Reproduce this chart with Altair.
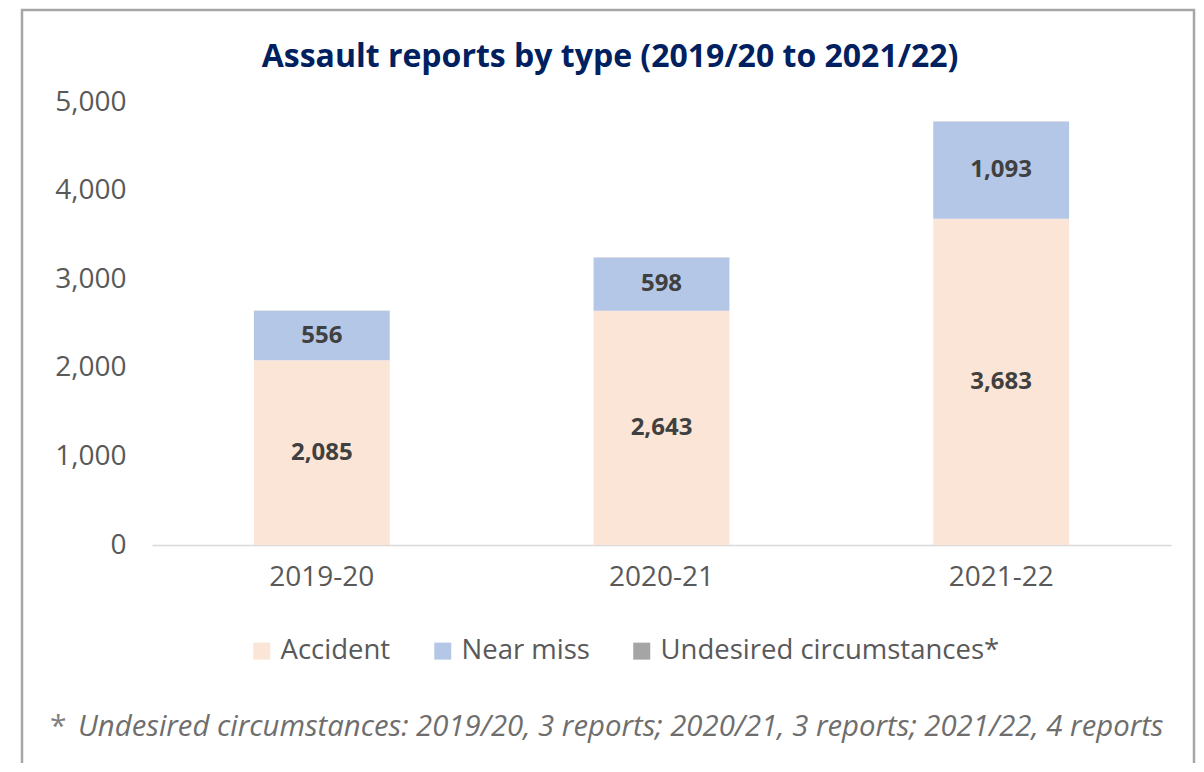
import altair as alt
import pandas as pd

years = ["2019-20", "2020-21", "2021-22"]
types = ["Accident", "Near miss", "Undesired circumstances*"]
accident = [2085, 2643, 3683]
near_miss = [556, 598, 1093]
undesired = [3, 3, 4]
colors = ["#FBE5D6", "#B4C7E7", "#A5A5A5"]
title_text = "Assault reports by type (2019/20 to 2021/22)"
footnote = "Undesired circumstances: 2019/20, 3 reports; 2020/21, 3 reports; 2021/22, 4 reports"

rows = []
for i, y in enumerate(years):
    for j, (t, vals) in enumerate(zip(types, [accident, near_miss, undesired])):
        rows.append({"year": y, "type": t, "value": vals[i], "order": j, "show": j < 2})
df = pd.DataFrame(rows)

FONT = "Open Sans"
PLOT_LEFT = 152
PLOT_TOP = 102

x_enc = alt.X("year:N", sort=years, title=None,
              scale=alt.Scale(paddingInner=0.6, paddingOuter=0.3),
              axis=alt.Axis(labelAngle=0, labelFontSize=28, labelColor="#595959",
                            labelFont=FONT, ticks=False, domainColor="#D9D9D9",
                            domainWidth=1.5, labelPadding=18))
y_enc = alt.Y("value:Q", stack="zero", title=None,
              scale=alt.Scale(domain=[0, 5000], nice=False),
              axis=alt.Axis(values=[0, 1000, 2000, 3000, 4000, 5000], format=",.0f",
                            labelFontSize=28, labelColor="#595959", labelFont=FONT,
                            ticks=False, domain=False, grid=False, labelPadding=26))

base = alt.Chart(df)

bars = base.mark_bar().encode(
    x=x_enc,
    y=y_enc,
    color=alt.Color("type:N", sort=types,
                    scale=alt.Scale(domain=types, range=colors),
                    legend=alt.Legend(title=None, orient="none", direction="horizontal",
                                      legendX=96, legendY=535,
                                      symbolType="square", symbolSize=289,
                                      symbolStrokeWidth=0, labelFontSize=27.5,
                                      labelFont=FONT, labelColor="#595959",
                                      labelOffset=5, columnPadding=38, labelLimit=500)),
    order=alt.Order("order:Q"),
)

labels = base.transform_stack(
    stack="value", groupby=["year"], sort=[alt.SortField("order")], as_=["y0", "y1"]
).transform_calculate(
    mid="(datum.y0 + datum.y1) / 2"
).transform_filter("datum.show").mark_text(
    font=FONT, fontSize=24, fontWeight="bold", color="#404040", baseline="middle"
).encode(
    x=alt.X("year:N", sort=years),
    y=alt.Y("mid:Q"),
    text=alt.Text("value:Q", format=","),
)

border = alt.Chart(pd.DataFrame({"a": [0]})).mark_rect(
    fill=None, stroke="#A6A6A6", strokeWidth=2.5
).encode(
    x=alt.value(22 - PLOT_LEFT), x2=alt.value(1194 - PLOT_LEFT),
    y=alt.value(10 - PLOT_TOP), y2=alt.value(800 - PLOT_TOP),
)

title = alt.Chart(pd.DataFrame({"t": [title_text]})).mark_text(
    font=FONT, fontSize=32, fontWeight="bold", color="#002060", baseline="middle", align="center"
).encode(
    text="t:N", x=alt.value(610 - PLOT_LEFT), y=alt.value(57 - PLOT_TOP)
)

star = alt.Chart(pd.DataFrame({"t": ["*"]})).mark_text(
    font=FONT, fontSize=30, color="#7F7F7F", baseline="middle", align="left"
).encode(
    text="t:N", x=alt.value(50 - PLOT_LEFT), y=alt.value(727 - PLOT_TOP)
)

note = alt.Chart(pd.DataFrame({"t": [footnote]})).mark_text(
    font=FONT, fontSize=29.3, fontStyle="italic", color="#6E6E6E", baseline="middle", align="left"
).encode(
    text="t:N", x=alt.value(78 - PLOT_LEFT), y=alt.value(727 - PLOT_TOP)
)

chart = alt.layer(border, bars, labels, title, star, note).properties(
    width=1019, height=443,
    autosize=alt.AutoSizeParams(type="none"),
    padding={"left": 144, "top": 94, "right": 25, "bottom": 218},
    background="white",
).configure_view(stroke=None)

chart.save("out.html", embed_options={"renderer": "svg", "actions": False})
